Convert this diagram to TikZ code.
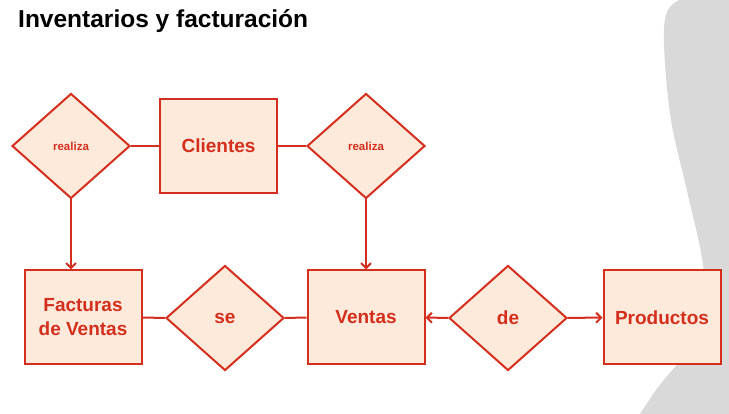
\documentclass[tikz,border=0pt]{standalone}
\usepackage{fontspec}
\setmainfont{Liberation Sans}
\usetikzlibrary{arrows.meta, shapes.geometric}
\definecolor{erRed}{RGB}{212, 46, 30}
\definecolor{erFill}{RGB}{253, 234, 218}
\definecolor{bgGray}{RGB}{217, 217, 217}

\begin{document}
\begin{tikzpicture}[
    x=1pt, y=-1pt,
    % --- styles ---
    % 1. node styles
    entity/.style={rectangle, draw=erRed, fill=erFill, line width=2pt, minimum width=117pt, minimum height=94pt, inner sep=0pt, text=erRed, align=center, font=\bfseries\fontsize{19}{24}\selectfont},
    relation/.style={diamond, aspect=1.12, draw=erRed, fill=erFill, line width=2pt, minimum width=118pt, minimum height=105pt, inner sep=0pt, text=erRed, font=\bfseries\fontsize{19}{24}\selectfont},
    smallrel/.style={relation, font=\bfseries\fontsize{11.5}{14}\selectfont},
    % 2. connector styles
    link/.style={erRed, line width=2pt},
    linkarrow/.style={link, -{Straight Barb[length=5pt, width=10pt]}},
    % 3. title
    titletext/.style={anchor=base west, inner sep=0pt, font=\bfseries\fontsize{24.5}{29}\selectfont}
]
\useasboundingbox (0,0) rectangle (729,414);

% === background shape on the right ===
\fill[bgGray] (729,0) -- plot[smooth, tension=0.6] coordinates {(679,0) (667,12) (664,45) (671,120) (688,195) (703,265) (704,320) (690,352) (675,367) (656,390) (640,414)} -- (729,414) -- cycle;

% === title ===
\node[titletext] (title) at (18,28) {Inventarios y facturación};

% === nodes ===
\node[smallrel] (rel_fact) at (71,146) {realiza};
\node[entity] (clientes) at (218.5,146) {Clientes};
\node[smallrel] (rel_venta) at (366,146) {realiza};

\node[entity] (facturas) at (83,317.5) {Facturas\\de Ventas};
\node[relation] (rel_se) at (225,318) {se};
\node[entity] (ventas) at (366,317.5) {Ventas};
\node[relation] (rel_de) at (508,318) {de};
\node[entity] (productos) at (662,317.5) {Productos};

% === connectors ===
\draw[link] (rel_fact) -- (clientes);
\draw[link] (clientes) -- (rel_venta);
\draw[linkarrow] (rel_fact.south) -- (rel_fact.south |- facturas.north);
\draw[linkarrow] (rel_venta.south) -- (ventas.north);

\draw[link] (facturas) -- (rel_se);
\draw[link] (rel_se) -- (ventas);
\draw[linkarrow] (rel_de) -- (ventas);
\draw[linkarrow] (rel_de) -- (productos);

\end{tikzpicture}
\end{document}
